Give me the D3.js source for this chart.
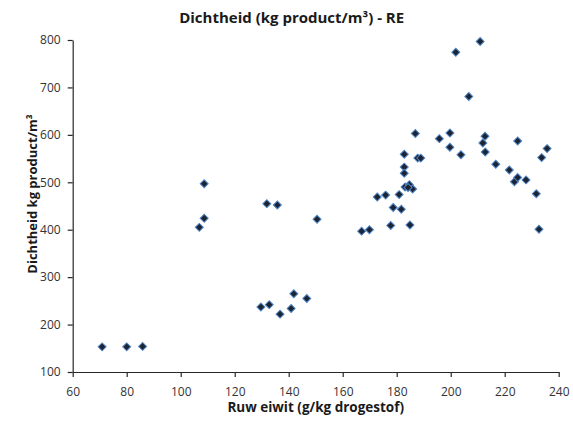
<!DOCTYPE html>
<html>
<head>
<meta charset="utf-8">
<script src="https://cdn.jsdelivr.net/npm/d3@7"></script>
<style>
  html, body { margin: 0; padding: 0; background: #fff; }
  svg { display: block; font-family: "Open Sans", sans-serif; }
</style>
</head>
<body>
<script>
// Ruw eiwit (g/kg drogestof) per sample
const proteinValues = [70.9, 80, 85.9, 106.9, 108.7, 108.7, 129.7, 131.9, 132.8, 135.8, 136.8, 140.9, 141.9, 146.7, 150.5,
  167, 169.9, 172.8, 175.9, 177.8, 178.7, 180.9, 181.7, 182.8, 182.8, 182.8, 183.1, 184.7, 185.9, 184.2, 184.9,
  186.9, 187.8, 188.9, 195.8, 199.7, 199.7, 201.9, 203.8, 206.7, 210.9, 211.9, 212.7, 212.8, 216.7, 221.7, 223.6,
  224.8, 224.8, 227.9, 231.7, 232.7, 233.7, 235.7];
// Dichtheid (kg product/m3) per sample
const densityValues = [153, 153, 154, 405, 424, 497, 237, 455, 242, 452, 222, 234, 265, 255, 422,
  397, 400, 469, 473, 409, 447, 474, 443, 559, 532, 519, 490, 495, 486, 489, 410,
  603, 551, 551, 592, 604, 574, 774, 558, 681, 797, 583, 597, 564, 538, 526, 501,
  587, 510, 505, 476, 401, 552, 571];
const xTicks = [60, 80, 100, 120, 140, 160, 180, 200, 220, 240];
const yTicks = [100, 200, 300, 400, 500, 600, 700, 800];

const chartTitle = "Dichtheid (kg product/m³) - RE";
const xTitle = "Ruw eiwit (g/kg drogestof)";
const yTitle = "Dichtheid kg product/m³";

const W = 573, H = 425;
const margin = { left: 72.7, right: 14.3, top: 40, bottom: 53 };

const svg = d3.select("body").append("svg").attr("width", W).attr("height", H);
svg.append("rect").attr("width", W).attr("height", H).attr("fill", "#fff");

const x = d3.scaleLinear().domain([60, 240]).range([margin.left, W - margin.right]);
const y = d3.scaleLinear().domain([100, 800]).range([H - margin.bottom, margin.top]);

// axes
const xAxis = svg.append("g")
  .attr("transform", `translate(0,${y(100)})`)
  .call(d3.axisBottom(x).tickValues(xTicks).tickSize(5).tickPadding(10).tickSizeOuter(0));
const yAxis = svg.append("g")
  .attr("transform", `translate(${x(60)},0)`)
  .call(d3.axisLeft(y).tickValues(yTicks).tickSize(5).tickPadding(7).tickSizeOuter(0));

[xAxis, yAxis].forEach(g => {
  g.selectAll("path.domain").attr("stroke", "#262626").attr("stroke-width", 1.2);
  g.selectAll(".tick line").attr("stroke", "#262626").attr("stroke-width", 1.2);
  g.selectAll(".tick text").attr("fill", "#333").attr("font-size", 12)
    .attr("font-family", "'Open Sans', sans-serif");
});

// markers: rotated squares (diamonds)
const diamond = d3.symbol().type(d3.symbolSquare).size(32);
svg.append("g").selectAll("path")
  .data(d3.zip(proteinValues, densityValues))
  .join("path")
  .attr("d", diamond)
  .attr("transform", d => `translate(${x(d[0])},${y(d[1])}) rotate(45)`)
  .attr("fill", "#1d2433")
  .attr("stroke", "#4f86c6")
  .attr("stroke-width", 1);

// titles
svg.append("text")
  .attr("x", 291.7).attr("y", 23)
  .attr("text-anchor", "middle")
  .attr("font-size", 15).attr("font-weight", "bold").attr("fill", "#1a1a1a")
  .text(chartTitle);

svg.append("text")
  .attr("x", (x(60) + x(240)) / 2).attr("y", 412)
  .attr("text-anchor", "middle")
  .attr("font-size", 13.5).attr("font-weight", "bold").attr("fill", "#1a1a1a")
  .text(xTitle);

svg.append("text")
  .attr("transform", "translate(37,194) rotate(-90)")
  .attr("text-anchor", "middle")
  .attr("font-size", 13).attr("font-weight", "bold").attr("fill", "#1a1a1a")
  .text(yTitle);
</script>
</body>
</html>
